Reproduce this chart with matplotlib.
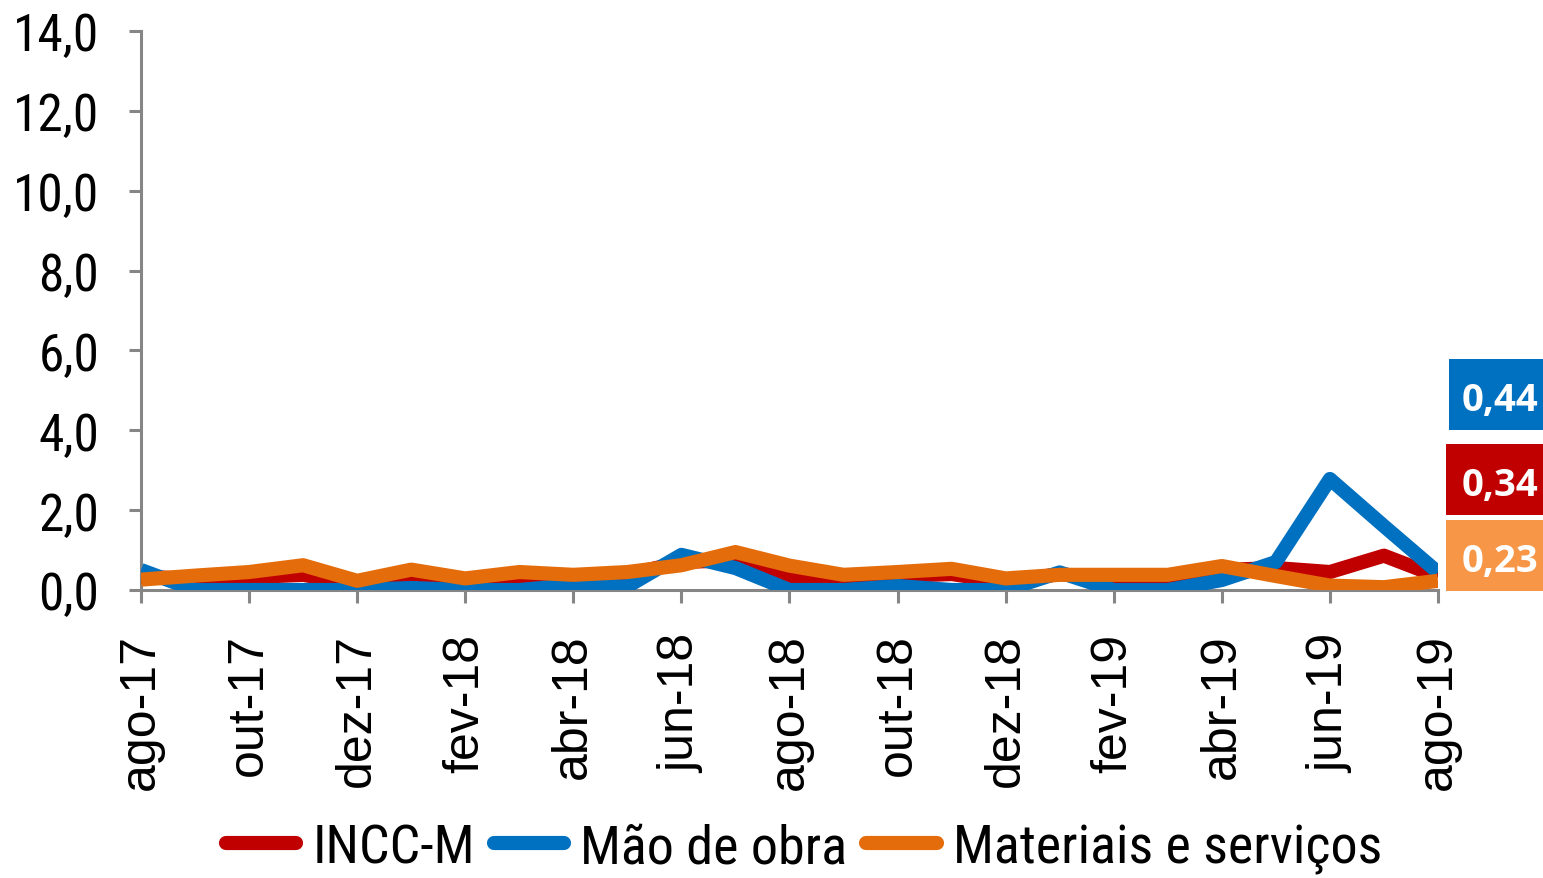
import matplotlib
matplotlib.use("Agg")
import matplotlib.pyplot as plt
from matplotlib import font_manager as fm
from matplotlib.patches import Rectangle
from matplotlib.lines import Line2D

# ---------------- data ----------------
months = ["ago-17", "set-17", "out-17", "nov-17", "dez-17", "jan-18", "fev-18", "mar-18",
          "abr-18", "mai-18", "jun-18", "jul-18", "ago-18", "set-18", "out-18", "nov-18",
          "dez-18", "jan-19", "fev-19", "mar-19", "abr-19", "mai-19", "jun-19", "jul-19", "ago-19"]
incc_m = [0.33, 0.28, 0.32, 0.38, 0.15, 0.40, 0.25, 0.35, 0.30, 0.38, 0.70, 0.75, 0.35,
          0.35, 0.35, 0.40, 0.20, 0.40, 0.25, 0.25, 0.50, 0.55, 0.45, 0.86, 0.34]
mao_de_obra = [0.50, 0.00, 0.00, 0.00, 0.00, 0.05, 0.00, 0.00, 0.12, 0.09, 0.88, 0.55, 0.00,
               0.00, 0.10, 0.00, 0.00, 0.44, 0.00, 0.00, 0.25, 0.70, 2.78, 1.60, 0.44]
materiais = [0.26, 0.36, 0.45, 0.62, 0.23, 0.51, 0.29, 0.45, 0.38, 0.45, 0.62, 0.95, 0.61,
             0.38, 0.45, 0.53, 0.29, 0.38, 0.38, 0.38, 0.60, 0.35, 0.11, 0.07, 0.23]
series_names = ["INCC-M", "Mão de obra", "Materiais e serviços"]
last_labels = ["0,44", "0,34", "0,23"]
yticks = [0, 2, 4, 6, 8, 10, 12, 14]

# ---------------- fonts ----------------
fonts = fm.fontManager.ttflist
names = {f.name for f in fonts}
narrow = None
for cand in ["Liberation Sans Narrow", "Arial Narrow", "DejaVu Sans Condensed", "Roboto Condensed",
             "Open Sans Condensed", "Noto Sans Condensed"]:
    if cand in names:
        narrow = dict(family=cand)
        break
if narrow is None:
    for f in fonts:
        if f.name == "DejaVu Sans" and str(f.stretch) in ("condensed", "semi-condensed", "600", "700"):
            narrow = dict(family="DejaVu Sans", stretch="condensed")
            break
have_narrow = narrow is not None
if not have_narrow:
    narrow = dict(family="Liberation Sans")
regular = "Liberation Sans"
boldfont = "Open Sans" if "Open Sans" in names else "DejaVu Sans"

ytick_size = 37 if have_narrow else 32
legend_size = 39 if have_narrow else 33

RED = "#C00000"
BLUE = "#0070C0"
ORANGE = "#E46C0A"
ORANGE_BOX = "#F79646"
GRAY = "#868686"

W, H = 1543, 879
fig = plt.figure(figsize=(W / 100, H / 100), dpi=100)
ax = fig.add_axes([141 / W, 1 - 591 / H, (1438 - 141) / W, (591 - 32) / H])

x = list(range(len(months)))
lw = 10.2
kw = dict(solid_joinstyle="round", solid_capstyle="butt")
ax.plot(x, incc_m, color=RED, lw=lw, **kw, zorder=3)
ax.plot(x, mao_de_obra, color=BLUE, lw=lw, **kw, zorder=4)
ax.plot(x, materiais, color=ORANGE, lw=lw, **kw, zorder=5)

ax.set_xlim(0, len(months) - 1)
ax.set_ylim(0, 14)

for s in ["top", "right"]:
    ax.spines[s].set_visible(False)
for s in ["left", "bottom"]:
    ax.spines[s].set_color(GRAY)
    ax.spines[s].set_linewidth(2.2)
    ax.spines[s].set_zorder(2)

ax.set_yticks(yticks)
ytl = ax.set_yticklabels([f"{v:.1f}".replace(".", ",") for v in yticks], fontsize=ytick_size)
for t in ytl:
    t.set_family(narrow["family"])
    if "stretch" in narrow:
        t.set_stretch(narrow["stretch"])
ax.tick_params(axis="y", length=9, width=2.2, color=GRAY, pad=21)

xt = x[::2]
ax.set_xticks(xt)
ax.set_xticklabels([months[i] for i in xt], rotation=90, fontfamily=regular, fontsize=36)
ax.tick_params(axis="x", length=9, width=2.2, color=GRAY, pad=22)

# legend
handles = [Line2D([], [], color=c, lw=lw, solid_capstyle="round") for c in (RED, BLUE, ORANGE)]
prop = fm.FontProperties(size=legend_size, **narrow)
fig.legend(handles, series_names, loc="center", bbox_to_anchor=(804 / W, 1 - 849 / H),
           ncol=3, frameon=False, prop=prop,
           handlelength=1.3, handletextpad=0.3, columnspacing=0.35, borderpad=0, borderaxespad=0)

# value boxes at the right
boxes = [(1449, 360, 1543, 431, BLUE), (1446, 445, 1543, 516, RED), (1446, 521, 1543, 592, ORANGE_BOX)]
for (x0, y0, x1, y1, c), lab in zip(boxes, last_labels):
    fig.add_artist(Rectangle((x0 / W, 1 - y1 / H), (x1 - x0) / W, (y1 - y0) / H,
                             transform=fig.transFigure, facecolor=c, edgecolor="none"))
    fig.text((x1 - 5) / W, 1 - ((y0 + y1) / 2 + 6) / H, lab, ha="right", va="center",
             color="white", fontsize=27.5, fontweight="bold", fontfamily=boldfont)

fig.savefig("out.png", dpi=100)
